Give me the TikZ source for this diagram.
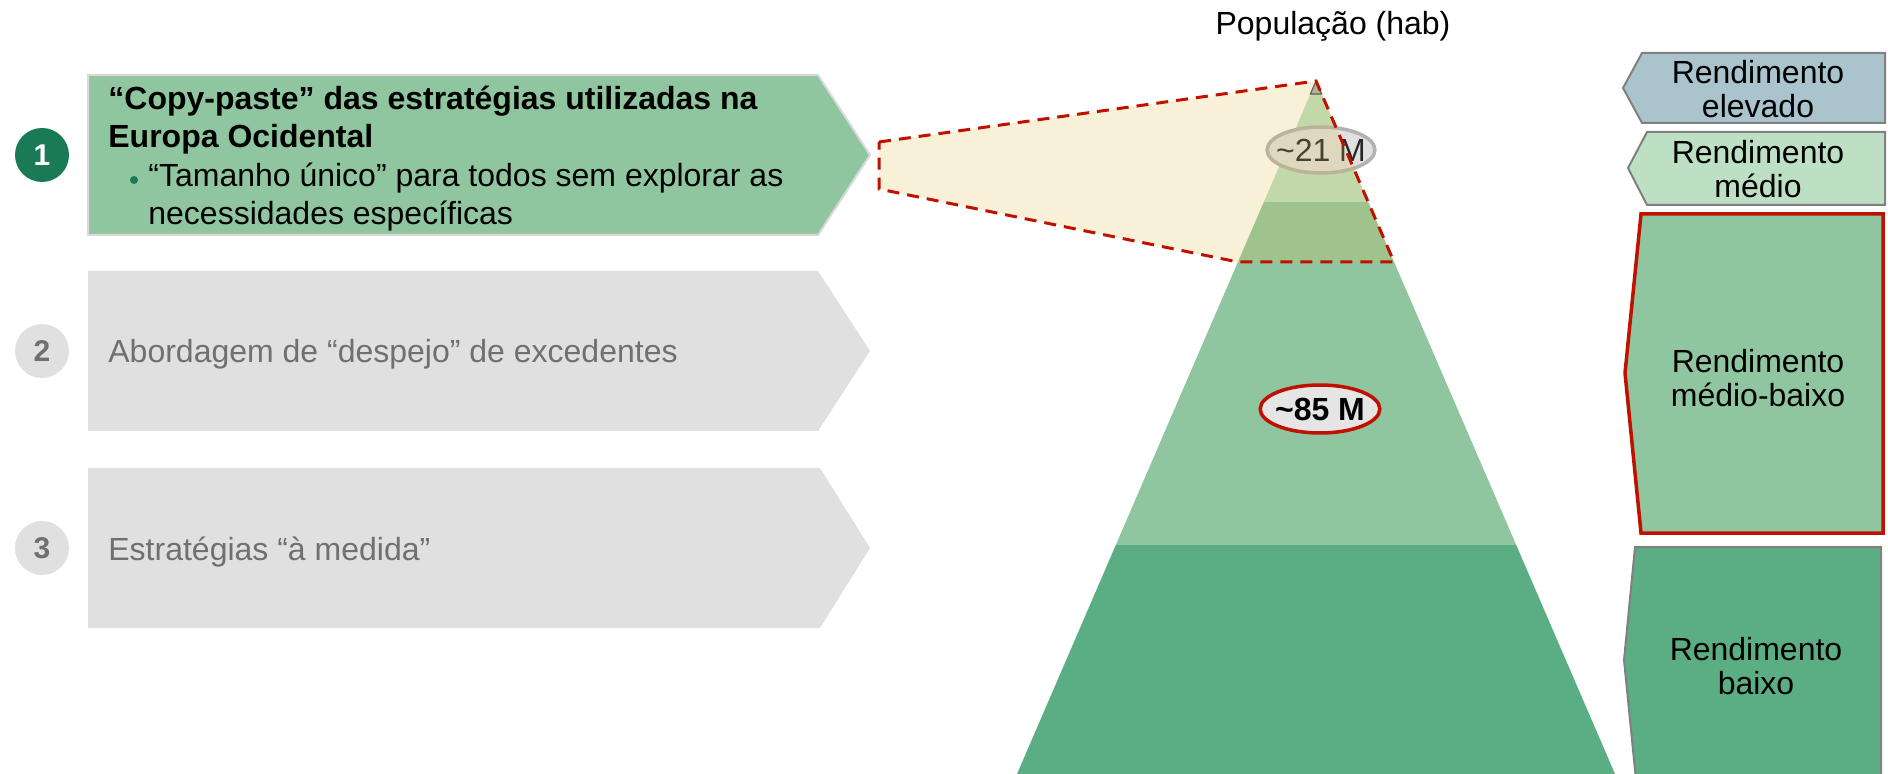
\documentclass[tikz,border=0pt]{standalone}
\usepackage{fontspec}
\setmainfont{Liberation Sans}
\usetikzlibrary{positioning,shapes.geometric}

\definecolor{darkgreen}{RGB}{26,122,86}
\definecolor{boxgreen}{RGB}{143,198,160}
\definecolor{boxgray}{RGB}{224,224,224}
\definecolor{txtgray}{RGB}{112,112,112}
\definecolor{elevado}{RGB}{169,196,204}
\definecolor{medio}{RGB}{189,224,196}
\definecolor{mediobaixo}{RGB}{143,198,160}
\definecolor{baixo}{RGB}{91,174,132}
\definecolor{redline}{RGB}{192,16,0}
\definecolor{cream}{RGB}{220,185,60}

\tikzset{
  body/.style = {font = \fontsize{16}{19}\selectfont, inner sep = 0pt},
  title/.style = {font = \fontsize{16}{19}\selectfont\bfseries, inner sep = 0pt},
  num/.style = {circle, minimum size = 27pt, inner sep = 0pt, font = \fontsize{15}{15}\selectfont\bfseries},
  lab/.style = {draw = black!50, line width = 1pt},
  labtxt/.style = {align = center, inner sep = 0pt, font = \fontsize{16}{17}\selectfont},
  reddash/.style = {draw = redline, line width = 1.5pt, dash pattern = on 6pt off 4pt}
}

\begin{document}
\begin{tikzpicture}[x = 0.5pt, y = -0.5pt]
\useasboundingbox (0,0) rectangle (1888,774);
\clip (0,0) rectangle (1888,774);

% left chevrons
\filldraw[fill = boxgreen, draw = black!15, line width = 1pt] (88,75) -- (818,75) -- (870,155) -- (818,235) -- (88,235) -- cycle;
\fill[boxgray] (88,271) -- (818,271) -- (870,351) -- (818,431) -- (88,431) -- cycle;
\fill[boxgray] (88,468) -- (820,468) -- (870,548) -- (820,628) -- (88,628) -- cycle;

\node[num, fill = darkgreen, text = white] (n1) at (42,155) {1};
\node[num, fill = boxgray, text = txtgray] (n2) at (42,351) {2};
\node[num, fill = boxgray, text = txtgray] (n3) at (42,548) {3};

\node[title, anchor = base west] (t1) at (108,110) {“Copy-paste” das estratégias utilizadas na};
\node[title, anchor = base west] (t2) at (108,148) {Europa Ocidental};
\node[circle, fill = darkgreen, inner sep = 0pt, minimum size = 4pt] (b1) at (134,180) {};
\node[body, anchor = base west] (t3) at (148,187) {“Tamanho único” para todos sem explorar as};
\node[body, anchor = base west] (t4) at (148,225) {necessidades específicas};
\node[body, text = txtgray, anchor = base west] (t5) at (108,363) {Abordagem de “despejo” de excedentes};
\node[body, text = txtgray, anchor = base west] (t6) at (108,560) {Estratégias “à medida”};

% pyramid
\coordinate (apex) at (1316,81);
\coordinate (bl) at (1017,774);
\coordinate (br) at (1615,774);
\begin{scope}
\clip (apex) -- (bl) -- (br) -- cycle;
\fill[medio] (1000,60) rectangle (1650,202);
\fill[mediobaixo] (1000,202) rectangle (1650,545);
\fill[baixo] (1000,545) rectangle (1650,790);
\end{scope}
\filldraw[fill = elevado!80!gray, draw = black!70, line width = 0.6pt] (apex) -- (1310.4,94) -- (1321.6,94) -- cycle;

\node[body] (pop) at (1333,26) {População (hab)};

\node[ellipse, fill = boxgray, draw = black!30, line width = 1.75pt, minimum height = 23pt, inner xsep = -3.4pt, inner ysep = 0pt, font = \fontsize{16}{16}\selectfont, text = black!85] (p21) at (1321,150) {\textasciitilde21 M};

% highlight of the first strategy
\fill[cream, fill opacity = 0.2] (879,142) -- (apex) -- (1394,262) -- (1238,262) -- (879,189) -- cycle;
\draw[reddash] (879,142) -- (apex) -- (1394,262) -- (1238,262) -- (879,189) -- cycle;

\node[ellipse, fill = black!10, draw = redline, line width = 1.75pt, minimum height = 24pt, inner xsep = -1.3pt, inner ysep = 0pt, font = \fontsize{16}{16}\selectfont\bfseries] (p85) at (1320,409) {\textasciitilde85 M};

% income labels
\draw[lab, fill = elevado] (1642,53) -- (1885,53) -- (1885,123) -- (1642,123) -- (1623,88) -- cycle;
\node[labtxt] (l1) at (1758,89) {Rendimento\\elevado};
\draw[lab, fill = medio] (1647,132) -- (1885,132) -- (1885,205) -- (1647,205) -- (1628,168) -- cycle;
\node[labtxt] (l2) at (1758,169) {Rendimento\\médio};
\draw[draw = redline, line width = 1.75pt, fill = mediobaixo] (1641,214) -- (1883,214) -- (1883,533) -- (1641,533) -- (1625,373) -- cycle;
\node[labtxt] (l3) at (1758,378) {Rendimento\\médio-baixo};
\draw[lab, fill = baixo] (1635,547) -- (1881,547) -- (1881,790) -- (1637,790) -- (1624,660) -- cycle;
\node[labtxt] (l4) at (1756,666) {Rendimento\\baixo};
\end{tikzpicture}
\end{document}
